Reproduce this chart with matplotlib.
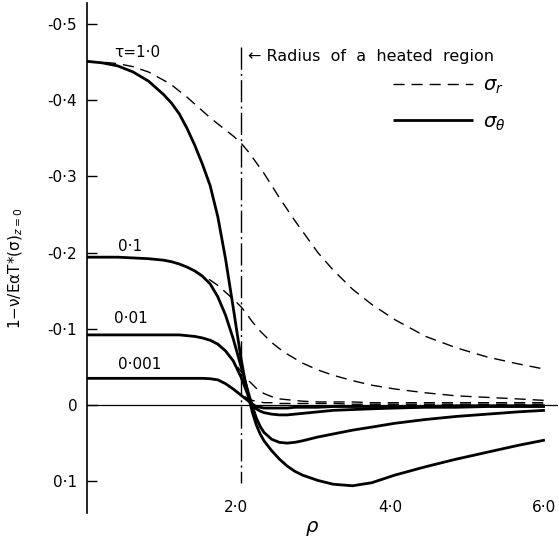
import matplotlib

matplotlib.use("Agg")
import matplotlib.pyplot as plt
from matplotlib.transforms import ScaledTranslation

# radial coordinate rho, shared by every curve
rho = [0.0, 0.2, 0.4, 0.6, 0.8, 1.0, 1.1, 1.2, 1.3, 1.4, 1.5, 1.6, 1.7, 1.8, 1.9, 2.0,
       2.05, 2.1, 2.15, 2.2, 2.25, 2.3, 2.4, 2.5, 2.6, 2.7, 2.8, 3.0, 3.2, 3.45, 3.7,
       4.0, 4.4, 4.8, 5.2, 5.6, 5.95]

# sigma_theta (solid) and sigma_r (dashed) for each tau
theta_1 = [-0.451, -0.449, -0.445, -0.437, -0.425, -0.407, -0.396, -0.382, -0.363, -0.341,
           -0.316, -0.288, -0.247, -0.192, -0.128, -0.062, -0.034, -0.010, 0.010, 0.026,
           0.038, 0.047, 0.060, 0.071, 0.080, 0.087, 0.092, 0.099, 0.104, 0.106, 0.102,
           0.092, 0.081, 0.071, 0.062, 0.053, 0.046]
r_1 = [-0.451, -0.450, -0.448, -0.444, -0.437, -0.426, -0.420, -0.412, -0.404, -0.395,
       -0.386, -0.377, -0.369, -0.361, -0.353, -0.344, -0.338, -0.332, -0.325, -0.318,
       -0.311, -0.304, -0.288, -0.272, -0.257, -0.242, -0.228, -0.200, -0.177, -0.152, -0.132,
       -0.112, -0.090, -0.075, -0.063, -0.054, -0.047]

theta_01 = [-0.194, -0.194, -0.194, -0.193, -0.192, -0.190, -0.188, -0.185, -0.181, -0.176,
            -0.169, -0.159, -0.142, -0.118, -0.087, -0.051, -0.033, -0.015, 0.002, 0.017,
            0.028, 0.036, 0.045, 0.049, 0.050, 0.049, 0.047, 0.042, 0.038, 0.033, 0.029,
            0.024, 0.019, 0.015, 0.012, 0.009, 0.007]
r_01 = [-0.194, -0.194, -0.194, -0.193, -0.192, -0.190, -0.188, -0.185, -0.181, -0.176,
        -0.170, -0.164, -0.157, -0.148, -0.139, -0.129, -0.123, -0.116, -0.109, -0.103,
        -0.097, -0.092, -0.082, -0.074, -0.067, -0.061, -0.055, -0.046, -0.039, -0.032, -0.026,
        -0.021, -0.016, -0.012, -0.010, -0.008, -0.006]

theta_001 = [-0.092, -0.092, -0.092, -0.092, -0.092, -0.092, -0.092, -0.092, -0.091, -0.090,
             -0.088, -0.085, -0.080, -0.071, -0.058, -0.037, -0.024, -0.011, 0.000, 0.005,
             0.008, 0.010, 0.012, 0.013, 0.013, 0.012, 0.011, 0.009, 0.007, 0.006, 0.005,
             0.004, 0.003, 0.003, 0.002, 0.002, 0.002]
r_001 = [-0.092, -0.092, -0.092, -0.092, -0.092, -0.092, -0.092, -0.092, -0.091, -0.090,
         -0.088, -0.085, -0.079, -0.070, -0.058, -0.044, -0.038, -0.032, -0.027, -0.022,
         -0.018, -0.015, -0.011, -0.008, -0.007, -0.006, -0.005, -0.004, -0.004, -0.004, -0.003,
         -0.003, -0.003, -0.003, -0.003, -0.003, -0.003]

theta_0001 = [-0.035, -0.035, -0.035, -0.035, -0.035, -0.035, -0.035, -0.035, -0.035, -0.035,
              -0.035, -0.0345, -0.033, -0.028, -0.021, -0.013, -0.009, -0.005, -0.001, 0.002,
              0.003, 0.004, 0.004, 0.004, 0.004, 0.003, 0.003, 0.003, 0.002, 0.002, 0.002,
              0.002, 0.002, 0.001, 0.001, 0.001, 0.001]
r_0001 = [-0.035, -0.035, -0.035, -0.035, -0.035, -0.035, -0.035, -0.035, -0.035, -0.035,
          -0.035, -0.0345, -0.033, -0.028, -0.021, -0.014, -0.011, -0.008, -0.006, -0.005,
          -0.004, -0.003, -0.003, -0.002, -0.002, -0.002, -0.002, -0.002, -0.002, -0.001, -0.001,
          -0.001, -0.001, -0.001, -0.001, -0.001, -0.001]

tau_labels = ["τ=1·0", "0·1", "0·01", "0·001"]
y_ticks = [-0.5, -0.4, -0.3, -0.2, -0.1, 0.0, 0.1]
y_tick_labels = ["-0·5", "-0·4", "-0·3", "-0·2", "-0·1", "0", "0·1"]
x_ticks = [2.0, 4.0, 6.0]
x_tick_labels = ["2·0", "4·0", "6·0"]
heated_radius = 2.0

DASHED = (0, (8, 5))
DASHDOT = (0, (16, 3, 1.5, 3))


def main() -> int:
    plt.rcParams["font.family"] = ["DejaVu Sans"]
    plt.rcParams["mathtext.fontset"] = "dejavusans"

    fig = plt.figure(figsize=(5.59, 5.41), dpi=100)
    ax = fig.add_axes([0.1556, 0.0518, 0.8426, 0.9427])

    thetas = [theta_1, theta_01, theta_001, theta_0001]
    radials = [r_1, r_01, r_001, r_0001]
    for i, (th, rr) in enumerate(zip(thetas, radials)):
        ax.plot(rho, rr, color="black", lw=1.0, linestyle=DASHED,
                label=r"$\sigma_r$" if i == 0 else None)
        ax.plot(rho, th, color="black", lw=2.0, solid_capstyle="butt", solid_joinstyle="round",
                label=r"$\sigma_\theta$" if i == 0 else None)

    ax.axhline(0.0, color="black", lw=0.9)
    ax.vlines(heated_radius, -0.470, 0.102, color="black", lw=1.0, linestyle=DASHDOT)

    # curve labels
    ax.text(0.65, -0.463, tau_labels[0], ha="center", va="center", fontsize=11)
    ax.text(0.56, -0.208, tau_labels[1], ha="center", va="center", fontsize=11)
    ax.text(0.57, -0.114, tau_labels[2], ha="center", va="center", fontsize=11)
    ax.text(0.69, -0.053, tau_labels[3], ha="center", va="center", fontsize=11)
    ax.text(2.09, -0.457, "← Radius  of  a  heated  region", ha="left", va="center",
            fontsize=11.5)

    ax.set_xlim(0, 6.12)
    ax.set_ylim(0.1417, -0.5276)

    ax.set_yticks(y_ticks)
    ax.set_yticklabels(y_tick_labels, fontsize=11)
    ax.tick_params(axis="y", direction="in", length=7, width=1.0, pad=7)
    ax.set_xticks(x_ticks)
    ax.set_xticklabels(x_tick_labels, fontsize=11)
    ax.tick_params(axis="x", length=0, pad=-9)
    shift = ScaledTranslation(-5 / 100, 0, fig.dpi_scale_trans)
    for label in ax.get_xticklabels():
        label.set_transform(label.get_transform() + shift)

    for side in ("top", "right", "bottom"):
        ax.spines[side].set_visible(False)
    ax.spines["left"].set_linewidth(1.2)

    ax.set_xlabel(r"$\rho$", fontsize=14)
    ax.xaxis.set_label_coords(0.478, -0.012)
    ax.set_ylabel("1−ν/EαT*(σ)$_{z=0}$", fontsize=11)
    ax.yaxis.set_label_coords(-0.132, 0.48)

    ax.legend(loc="upper left", bbox_to_anchor=(0.65, 0.858), bbox_transform=ax.transAxes,
              frameon=False, fontsize=14, handlelength=4.1, handletextpad=0.5,
              labelspacing=0.85, borderpad=0, borderaxespad=0)

    fig.savefig("out.png", dpi=100)
    plt.close(fig)
    return 0


if __name__ == "__main__":
    raise SystemExit(main())
